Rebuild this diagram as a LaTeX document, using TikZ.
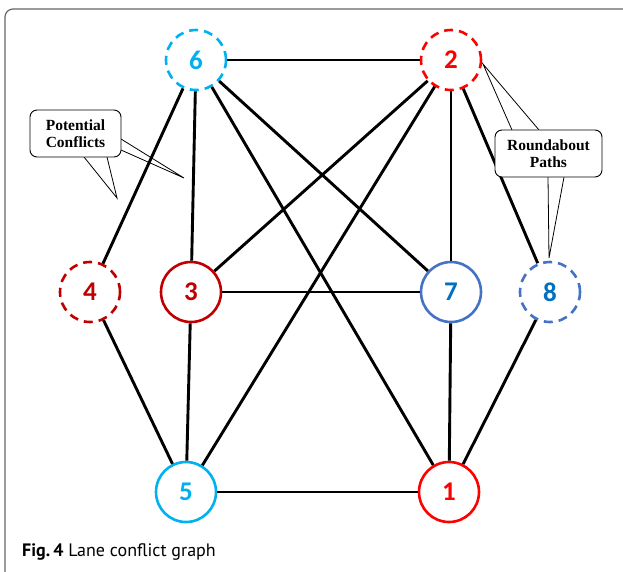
\documentclass[tikz,border=0pt]{standalone}
\usepackage{fontspec}
\setmainfont{Liberation Serif}
\newfontfamily\numfont{Carlito}
\newfontfamily\capfont{PT Sans}
\begin{document}
\begin{tikzpicture}[x=1pt,y=-1pt]
\definecolor{cyanc}{HTML}{00B0F0}
\definecolor{redc}{HTML}{FF0000}
\definecolor{dredc}{HTML}{C00000}
\definecolor{bluec}{HTML}{4472C4}
\definecolor{btext}{HTML}{0070C0}
\tikzset{
  vtx/.style={circle, minimum size=60pt, inner sep=0pt, line width=2.6pt, fill=white,
     font=\numfont\bfseries\fontsize{27}{27}\selectfont},
  dsh/.style={dash pattern=on 9pt off 6pt},
  edge/.style={line width=2.9pt, black},
  callout/.style={draw=black, line width=0.9pt, fill=white, rounded corners=7pt,
     font=\bfseries\fontsize{15.5}{17}\selectfont, align=center, inner sep=0pt},
  pointer/.style={line width=0.8pt, black},
}
\useasboundingbox (0,0) rectangle (623,571);
% frame
\draw[gray!80!black, line width=1.2pt, rounded corners=8pt] (5,9) rectangle (660,610);

% nodes
\node[vtx, draw=cyanc, dsh, text=cyanc] (n6) at (196,60) {6};
\node[vtx, draw=redc, dsh, text=redc] (n2) at (451,60) {2};
\node[vtx, draw=dredc, dsh, text=dredc] (n4) at (90,292) {4};
\node[vtx, draw=dredc, text=dredc] (n3) at (191,292) {3};
\node[vtx, draw=bluec, text=btext] (n7) at (451,292) {7};
\node[vtx, draw=bluec, dsh, text=btext] (n8) at (550,292) {8};
\node[vtx, draw=cyanc, text=cyanc] (n5) at (186,492) {5};
\node[vtx, draw=redc, text=redc] (n1) at (449,492) {1};

% potential conflicts callout (drawn beneath edges)
\node[callout, minimum width=91pt, minimum height=47pt] (pc) at (75.5,133.5) {Potential\\Conflicts};
\coordinate (pcA) at (84,157);
\coordinate (pcB) at (107,157);
\coordinate (pcT) at (117,198);
\coordinate (pcC) at (121,139);
\coordinate (pcD) at (121,150);
\coordinate (pcU) at (184,178);
\fill[white] ([yshift=1pt]pcA) -- (pcT) -- ([yshift=1pt]pcB) -- ([yshift=-1.5pt]pcB) -- ([yshift=-1.5pt]pcA) -- cycle;
\draw[pointer] (pcA) -- (pcT) -- (pcB);
\fill[white] ([xshift=-1pt]pcC) -- (pcU) -- ([xshift=-1pt]pcD) -- ([xshift=1.5pt]pcD) -- ([xshift=1.5pt]pcC) -- cycle;
\draw[pointer] (pcC) -- (pcU) -- (pcD);

% edges
\draw[edge] (n6) -- (n2);
\draw[edge] (n6) -- (n4);
\draw[edge] (n6) -- (n3);
\draw[edge] (n6) -- (n7);
\draw[edge] (n6) -- (n1);
\draw[edge] (n2) -- (n3);
\draw[edge] (n2) -- (n5);
\draw[edge] (n2) -- (n7);
\draw[edge] (n2) -- (n8);
\draw[edge] (n3) -- (n7);
\draw[edge] (n3) -- (n5);
\draw[edge] (n4) -- (n5);
\draw[edge] (n7) -- (n1);
\draw[edge] (n8) -- (n1);
\draw[edge] (n5) -- (n1);

% roundabout paths callout
\node[callout, minimum width=107pt, minimum height=47pt] (rp) at (548.5,153.5) {Roundabout\\Paths};
\coordinate (rpA) at (512,130);
\coordinate (rpB) at (539,130);
\coordinate (rpT) at (483,64);
\coordinate (rpC) at (548,177);
\coordinate (rpD) at (564,177);
\coordinate (rpU) at (549,258);
\fill[white] ([yshift=-1pt]rpA) -- (rpT) -- ([yshift=-1pt]rpB) -- ([yshift=1.5pt]rpB) -- ([yshift=1.5pt]rpA) -- cycle;
\draw[pointer] (rpA) -- (rpT) -- (rpB);
\fill[white] ([yshift=1pt]rpC) -- (rpU) -- ([yshift=1pt]rpD) -- ([yshift=-1.5pt]rpD) -- ([yshift=-1.5pt]rpC) -- cycle;
\draw[pointer] (rpC) -- (rpU) -- (rpD);

% caption
\node[anchor=base west, inner sep=0pt, font=\capfont\fontsize{18}{18}\selectfont] (cap) at (22,556) {\textbf{Fig.\,4} Lane conflict graph};
\end{tikzpicture}
\end{document}
